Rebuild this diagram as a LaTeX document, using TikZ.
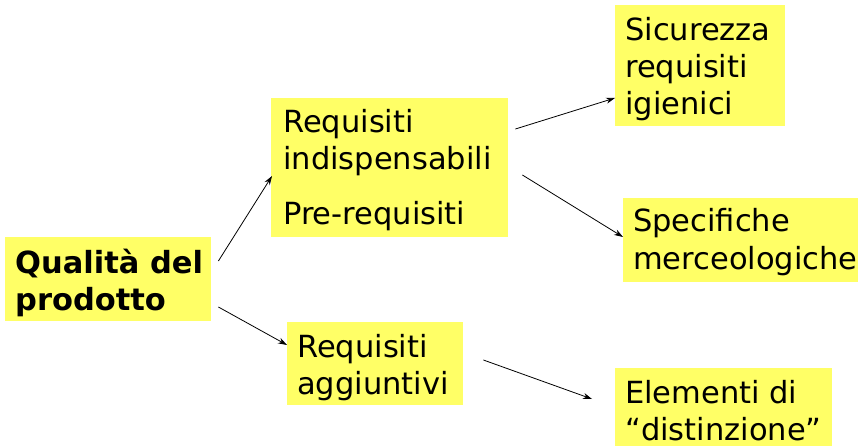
\documentclass[tikz,border=0pt]{standalone}
\usepackage{fontspec}
\setmainfont{DejaVu Sans}
\usetikzlibrary{calc,arrows.meta}
\definecolor{boxyellow}{RGB}{255,255,102}
\begin{document}
\begin{tikzpicture}[x=1pt,y=-1pt,
  ybox/.style={fill=boxyellow,anchor=north west,inner sep=0pt},
  txt/.style={anchor=base west,inner sep=0pt,font=\fontsize{30.5}{37}\selectfont},
  conn/.style={line width=0.8pt,-{Stealth[length=9pt,width=6pt]}}]
\useasboundingbox (0,0) rectangle (858,446);
\node[ybox,minimum width=206pt,minimum height=84pt] (A) at (5,237) {};
\node[ybox,minimum width=237pt,minimum height=139pt] (B) at (271,98) {};
\node[ybox,minimum width=176pt,minimum height=83pt] (C) at (287,322) {};
\node[ybox,minimum width=170pt,minimum height=121pt] (D) at (615,5) {};
\node[ybox,minimum width=235pt,minimum height=84pt] (E) at (623,198) {};
\node[ybox,minimum width=217pt,minimum height=78pt] (F) at (615,368) {};
\node[txt,font=\fontsize{30.5}{37}\selectfont\bfseries] (At) at (15,273) {\parbox[t]{200pt}{Qualità del\\prodotto}};
\node[txt] (Bt) at (283,133) {\parbox[t]{230pt}{Requisiti\\indispensabili\\[18pt]Pre-requisiti}};
\node[txt] (Ct) at (297,357) {\parbox[t]{170pt}{Requisiti\\aggiuntivi}};
\node[txt] (Dt) at (625,41) {\parbox[t]{170pt}{Sicurezza\\requisiti\\igienici}};
\node[txt] (Et) at (633,232) {\parbox[t]{230pt}{Specifiche\\merceologiche}};
\node[txt] (Ft) at (625,403) {\parbox[t]{220pt}{Elementi di\\“distinzione”}};
\draw[conn] ($(A.north east)+(7,24)$) -- ($(B.north west)+(1,78)$);
\draw[conn] ($(A.north east)+(7,70)$) -- ($(C.north west)+(0,23)$);
\draw[conn] ($(B.north east)+(7,31)$) -- ($(D.north west)+(0,93)$);
\draw[conn] ($(B.north east)+(14,77)$) -- ($(E.north west)+(0,39)$);
\draw[conn] ($(C.north east)+(20,38)$) -- ($(F.north west)+(-23,31)$);
\end{tikzpicture}
\end{document}
